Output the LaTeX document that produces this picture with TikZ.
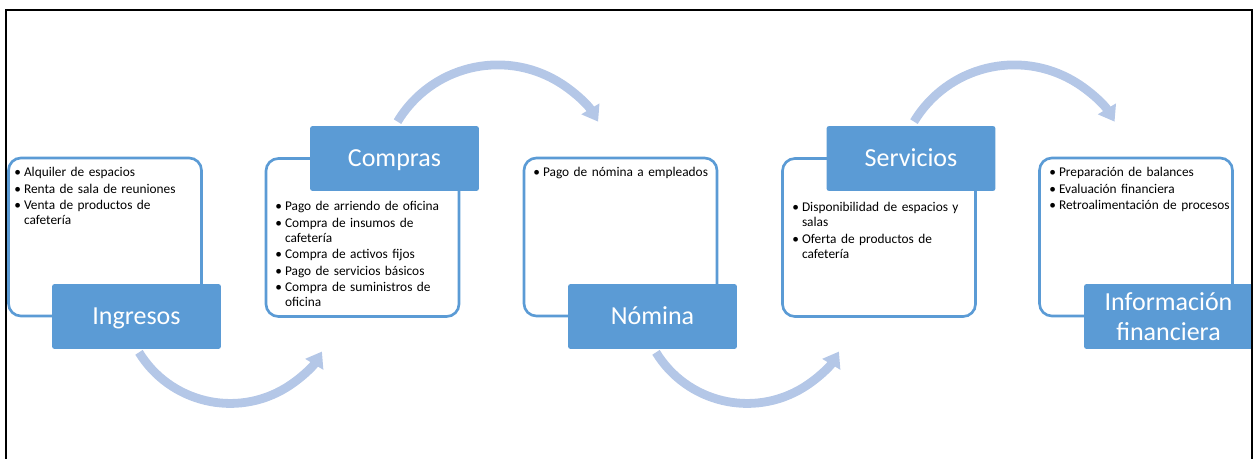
\documentclass[tikz,border=0pt]{standalone}
\usepackage{fontspec}
\setmainfont{Carlito}
\usetikzlibrary{arrows.meta}
\definecolor{azul}{HTML}{5B9BD5}
\definecolor{azulclaro}{HTML}{B4C7E7}
\newcommand{\vin}[1]{\par\hyphenpenalty=10000\hangindent=5.5pt\hangafter=1\noindent\makebox[5.5pt][l]{\textbullet}\strut#1\par\vspace{0.68pt}}

\begin{document}
\begin{tikzpicture}[x=0.02cm, y=-0.02cm,
    marco/.style={draw=azul, line width=1.5pt, rounded corners=7pt, fill=white, minimum width=3.86cm, minimum height=3.16cm, inner sep=0pt},
    titulo/.style={fill=azul, rounded corners=1.5pt, text=white, minimum width=3.38cm, minimum height=1.3cm, inner sep=0pt, font=\fontsize{14.8}{17}\selectfont, align=center},
    titulo1/.style={titulo, text height=9.5pt, text depth=0pt},
    lista/.style={anchor=north west, inner sep=0pt, text width=4cm, align=left, font=\fontsize{7.6}{8.67}\selectfont},
    flecha/.style={draw=azulclaro, line width=5pt, -{Triangle[width=11.5pt,length=8.5pt]}}]
    \useasboundingbox (0,0) rectangle (1255,459);

    % Ingresos
    \node[marco] (m1) at (105,237) {};
    \node[lista] (l1) at (14,161) {\vin{Alquiler de espacios}\vin{Renta de sala de reuniones}\vin{Venta de productos de\newline cafetería}};
    \node[titulo1] (ingresos) at (136.5,316.5) {Ingresos};

    % Compras
    \node[marco] (m2) at (362.5,237.5) {};
    \node[lista] (l2) at (275,195) {\vin{Pago de arriendo de oficina}\vin{Compra de insumos de\newline cafetería}\vin{Compra de activos fijos}\vin{Pago de servicios básicos}\vin{Compra de suministros de\newline oficina}};
    \node[titulo1] (compras) at (394.5,158.5) {Compras};

    % Nomina
    \node[marco] (m3) at (620.5,237) {};
    \node[lista] (l3) at (533,161) {\vin{Pago de nómina a empleados}};
    \node[titulo1] (nomina) at (652.5,316.5) {Nómina};

    % Servicios
    \node[marco] (m4) at (879,237.5) {};
    \node[lista] (l4) at (792,196) {\vin{Disponibilidad de espacios y\newline salas}\vin{Oferta de productos de\newline cafetería}};
    \node[titulo1] (servicios) at (911,158.5) {Servicios};

    % Informacion financiera
    \node[marco] (m5) at (1136,237) {};
    \node[lista] (l5) at (1049,161) {\vin{Preparación de balances}\vin{Evaluación financiera}\vin{Retroalimentación de procesos}};
    \node[titulo] (info) at (1168.5,316.5) {Información\\financiera};

    % Flechas
    \draw[flecha] ([shift={(2.5,3)}]ingresos.south) arc[start angle=148.5, end angle=31, radius=107];
    \draw[flecha] ([shift={(3,-4)}]compras.north) arc[start angle=-149, end angle=-31, radius=117];
    \draw[flecha] ([shift={(3.5,3)}]nomina.south) arc[start angle=148.5, end angle=31, radius=107];
    \draw[flecha] ([shift={(3,-4)}]servicios.north) arc[start angle=-149, end angle=-31, radius=117];

    % Marco exterior
    \draw[line width=1.1pt] (6,459) -- (6,10) -- (1252,10) -- (1252,459);
\end{tikzpicture}
\end{document}
